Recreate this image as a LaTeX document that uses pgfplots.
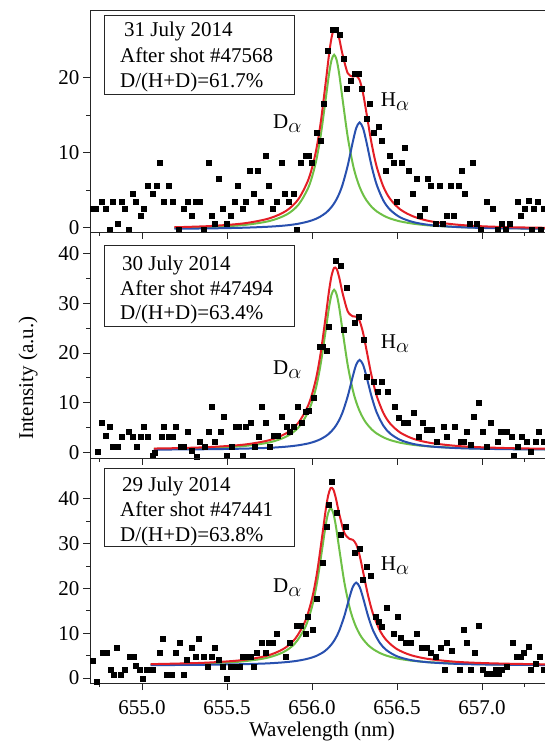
\documentclass[border=0pt]{standalone}
\usepackage{fontspec}
\setmainfont{Liberation Serif}
\usepackage{pgfplots}
\pgfplotsset{compat=1.18}
\definecolor{fitred}{RGB}{228,30,38}
\definecolor{fitgreen}{RGB}{110,192,70}
\definecolor{fitblue}{RGB}{40,80,175}
\newcommand\bigf{\fontsize{21}{25}\selectfont}
\newcommand\Da{D\raisebox{-4pt}{$\alpha$}}
\newcommand\Ha{H\raisebox{-4pt}{$\alpha$}}
\pgfplotsset{
  panel/.style={
    scale only axis, width=460pt,
    xmin=654.694, xmax=657.40,
    axis line style={line width=0.9pt, black!85},
    tick pos=left, tick align=outside,
    major tick length=7pt, minor tick length=4pt,
    every tick/.style={black!85, line width=0.9pt},
    xtick={655,655.5,656,656.5,657}, minor x tick num=1,
    minor xtick={654.75,657.25},
    minor y tick num=1,
    scaled x ticks=false,
    /pgf/number format/assume math mode=true,
    tick label style={font=\bigf},
    x tick label style={/pgf/number format/fixed,/pgf/number format/fixed zerofill,/pgf/number format/precision=1, yshift=-7pt},
    clip=true,
  },
  pts/.style={only marks, mark=square*, mark size=2.5pt, black},
  gline/.style={fitgreen, line width=2pt, smooth, no marks},
  bline/.style={fitblue, line width=2pt, smooth, no marks},
  rline/.style={fitred, line width=2pt, smooth, no marks},
}
\begin{document}
\begin{tikzpicture}
\useasboundingbox (0pt,0pt) rectangle (545pt,744pt);
% ---------------- Panel 1 ----------------
\begin{axis}[panel, at={(90pt,512pt)}, anchor=south west, height=222pt,
  ymin=-0.55, ymax=28.95, ytick={0,10,20}, xticklabels={}]
\addplot[pts] table {
654.71 2.6
654.73 2.6
654.76 3.5
654.785 2.6
654.81 -0.3
654.83 3.5
654.855 0.5
654.88 3.5
654.90 2.6
654.92 -0.3
654.945 4.6
654.965 3.5
654.99 1.55
655.01 2.6
655.035 5.6
655.06 4.6
655.085 5.6
655.105 8.6
655.13 3.5
655.155 5.6
655.18 3.5
655.215 -0.3
655.245 2.6
655.27 3.5
655.295 1.55
655.315 3.5
655.34 3.5
655.365 -0.3
655.39 8.6
655.41 1.55
655.43 0.5
655.45 6.5
655.475 2.6
655.50 0.5
655.52 1.55
655.545 3.5
655.565 5.6
655.59 2.6
655.61 3.5
655.635 7.6
655.655 4.6
655.68 7.6
655.70 3.5
655.725 9.6
655.745 5.6
655.77 2.6
655.795 3.5
655.82 8.6
655.84 4.6
655.865 3.5
655.89 4.6
655.91 -0.3
655.935 8.6
655.96 9.6
655.98 9.6
656.00 8.6
656.025 12.6
656.05 11.6
656.07 16.5
656.095 23.6
656.12 26.3
656.14 26.3
656.165 25.6
656.185 22.5
656.205 18.5
656.23 19.5
656.25 20.5
656.275 20.5
656.295 18.5
656.32 14.5
656.34 16.5
656.365 12.6
656.39 13.4
656.41 11.6
656.435 7.6
656.455 9.6
656.48 8.6
656.50 3.5
656.525 8.6
656.545 10.7
656.57 7.6
656.59 4.6
656.615 6.5
656.635 1.55
656.66 2.6
656.68 6.5
656.70 5.6
656.725 0.5
656.75 5.6
656.77 0.5
656.79 1.55
656.815 5.6
656.835 1.55
656.86 5.6
656.88 7.6
656.90 4.6
656.925 0.5
656.945 8.6
656.97 0.5
656.99 -0.3
657.03 3.5
657.06 2.6
657.09 -0.3
657.115 0.5
657.14 -0.3
657.16 0.5
657.21 3.5
657.23 1.55
657.25 2.6
657.275 3.6
657.29 -0.3
657.305 2.6
657.33 3.5
657.345 -0.3
657.365 2.5
657.39 1.55
};
\addplot[gline] table {
655.19 -0.01
655.40 0.11
655.60 0.38
655.75 0.91
655.85 1.76
655.92 3.07
655.98 5.44
656.02 8.47
656.05 12.10
656.08 17.04
656.10 20.43
656.115 22.30
656.13 23.00
656.145 22.30
656.16 20.43
656.18 17.04
656.21 12.10
656.24 8.47
656.26 6.75
656.28 5.44
656.30 4.44
656.32 3.67
656.35 2.81
656.38 2.20
656.42 1.64
656.46 1.24
656.52 0.85
656.60 0.54
656.70 0.30
656.85 0.12
657.00 0.02
657.20 -0.05
657.40 -0.09
};
\addplot[bline] table {
655.19 -0.11
655.40 -0.07
655.60 0.02
655.75 0.16
655.85 0.33
655.92 0.55
655.98 0.86
656.02 1.17
656.05 1.51
656.08 1.97
656.10 2.39
656.115 2.78
656.13 3.25
656.145 3.83
656.16 4.54
656.18 5.76
656.21 8.26
656.24 11.43
656.26 13.26
656.28 14.00
656.30 13.26
656.32 11.43
656.35 8.26
656.38 5.76
656.42 3.62
656.46 2.39
656.52 1.38
656.60 0.74
656.70 0.36
656.85 0.11
657.00 -0.01
657.20 -0.08
657.40 -0.11
};
\addplot[rline] table {
655.19 0.08
655.40 0.24
655.60 0.60
655.75 1.27
655.85 2.29
655.92 3.82
655.98 6.50
656.02 9.84
656.05 13.81
656.08 19.21
656.10 23.02
656.115 25.28
656.13 26.45
656.145 26.33
656.16 25.17
656.18 23.00
656.21 20.56
656.24 20.10
656.26 20.21
656.28 19.64
656.30 17.90
656.32 15.30
656.35 11.27
656.38 8.16
656.42 5.46
656.46 3.83
656.52 2.43
656.60 1.48
656.70 0.86
656.85 0.43
657.00 0.21
657.20 0.07
657.40 0.00
};
\node[font=\bigf] at (axis cs:655.854,13.9) {\Da};
\node[font=\bigf] at (axis cs:656.488,16.8) {\Ha};
\end{axis}
% ---------------- Panel 2 ----------------
\begin{axis}[panel, at={(90pt,286pt)}, anchor=south west, height=226pt,
  ymin=-1.1, ymax=44.3, ytick={0,10,20,30,40}, xticklabels={}]
\addplot[pts] table {
654.738 0.1
654.763 6.0
654.785 3.3
654.81 5.2
654.83 1.2
654.855 1.2
654.88 3.2
654.92 4.2
654.945 3.2
654.967 1.2
654.99 3.2
655.012 5.2
655.035 3.2
655.06 -0.7
655.076 -0.1
655.117 3.2
655.13 5.2
655.155 3.2
655.18 3.2
655.20 5.2
655.225 1.2
655.245 1.2
655.27 4.2
655.295 0.4
655.32 -0.8
655.34 2.2
655.37 1.2
655.39 4.2
655.41 9.2
655.43 2.2
655.46 4.2
655.48 7.1
655.50 -0.7
655.525 1.2
655.55 5.2
655.57 5.2
655.59 -0.7
655.61 5.2
655.64 6.0
655.66 1.2
655.685 3.2
655.705 9.2
655.73 6.0
655.75 1.2
655.775 3.3
655.80 3.3
655.82 7.1
655.85 5.2
655.87 4.2
655.895 5.2
655.915 9.2
655.94 6.0
655.96 8.2
655.98 8.5
656.01 11.1
656.045 21.3
656.06 21.3
656.085 20.4
656.10 25.3
656.137 38.6
656.167 37.5
656.186 24.6
656.206 33.2
656.25 26.1
656.275 27.2
656.304 22.6
656.32 15.3
656.363 14.3
656.386 12.2
656.41 14.3
656.445 12.2
656.486 9.2
656.51 6.9
656.54 5.9
656.56 5.9
656.60 8.0
656.63 3.2
656.65 6.0
656.676 4.6
656.706 4.6
656.735 2.2
656.775 5.2
656.794 3.2
656.837 5.2
656.873 2.2
656.892 2.2
656.91 4.2
656.935 1.5
656.95 7.2
656.98 10.0
657.006 4.2
657.03 1.2
657.05 6.0
657.09 2.2
657.108 4.2
657.147 4.2
657.176 3.2
657.186 -0.7
657.21 1.2
657.235 3.2
657.265 2.2
657.284 0.2
657.314 2.2
657.333 4.2
657.363 2.2
};
\addplot[gline] table {
655.07 0.71
655.19 0.76
655.40 0.93
655.60 1.31
655.75 2.04
655.85 3.22
655.92 5.03
655.98 8.33
656.02 12.54
656.05 17.58
656.08 24.42
656.10 29.13
656.115 31.73
656.13 32.70
656.145 31.73
656.16 29.13
656.18 24.42
656.21 17.58
656.24 12.54
656.26 10.14
656.28 8.33
656.30 6.94
656.32 5.87
656.35 4.68
656.38 3.84
656.42 3.05
656.46 2.50
656.52 1.96
656.60 1.52
656.70 1.20
656.85 0.94
657.00 0.80
657.20 0.70
657.40 0.65
};
\addplot[bline] table {
655.07 0.59
655.19 0.61
655.40 0.67
655.60 0.78
655.75 0.95
655.85 1.18
655.92 1.46
655.98 1.84
656.02 2.25
656.05 2.68
656.08 3.27
656.10 3.80
656.115 4.30
656.13 4.90
656.145 5.64
656.16 6.55
656.18 8.09
656.21 11.29
656.24 15.32
656.26 17.65
656.28 18.60
656.30 17.65
656.32 15.32
656.35 11.29
656.38 8.09
656.42 5.37
656.46 3.80
656.52 2.52
656.60 1.69
656.70 1.21
656.85 0.89
657.00 0.75
657.20 0.65
657.40 0.61
};
\addplot[rline] table {
655.07 0.80
655.19 0.87
655.40 1.10
655.60 1.59
655.75 2.49
655.85 3.90
655.92 5.99
655.98 9.67
656.02 14.29
656.05 19.76
656.08 27.19
656.10 32.43
656.115 35.53
656.13 37.10
656.145 36.87
656.16 35.18
656.18 32.01
656.21 28.37
656.24 27.36
656.26 27.29
656.28 26.43
656.30 24.09
656.32 20.69
656.35 15.47
656.38 11.43
656.42 7.92
656.46 5.80
656.52 3.98
656.60 2.71
656.70 1.91
656.85 1.33
657.00 1.05
657.20 0.85
657.40 0.76
};
\node[font=\bigf] at (axis cs:655.854,16.6) {\Da};
\node[font=\bigf] at (axis cs:656.488,21.8) {\Ha};
\end{axis}
% ---------------- Panel 3 ----------------
\begin{axis}[panel, at={(90pt,61pt)}, anchor=south west, height=225pt,
  ymin=-1.1, ymax=49.1, ytick={0,10,20,30,40}]
\addplot[pts] table {
654.712 3.9
654.735 -0.7
654.77 5.7
654.79 5.7
654.814 1.9
654.833 0.7
654.853 6.7
654.876 0.7
654.90 1.9
654.927 4.8
654.95 4.8
654.965 2.8
654.985 1.9
655.006 -0.1
655.03 1.9
655.06 1.9
655.104 5.7
655.124 8.8
655.147 0.7
655.176 0.7
655.196 5.7
655.22 7.8
655.245 0.7
655.265 4.1
655.29 6.7
655.314 4.7
655.333 8.8
655.363 4.7
655.386 2.6
655.41 4.8
655.43 6.7
655.45 4.1
655.476 2.6
655.50 -0.1
655.52 2.6
655.55 2.6
655.575 2.6
655.594 4.8
655.618 4.8
655.637 4.8
655.657 2.6
655.676 5.7
655.706 7.8
655.725 5.7
655.745 7.8
655.77 7.8
655.794 9.9
655.843 4.8
655.87 7.8
655.908 11.7
655.935 11.7
655.96 9.9
655.975 13.8
656.006 10.8
656.03 17.6
656.06 25.7
656.088 33.7
656.10 38.7
656.118 43.7
656.143 36.8
656.167 32.0
656.20 33.7
656.25 27.9
656.28 28.8
656.30 21.9
656.324 24.9
656.343 22.8
656.373 13.8
656.39 12.6
656.41 11.5
656.44 15.8
656.48 10.0
656.504 13.8
656.52 8.9
656.55 7.8
656.578 7.8
656.618 10.0
656.647 6.7
656.676 6.7
656.696 5.6
656.725 4.8
656.755 6.7
656.778 1.9
656.794 7.8
656.82 6.0
656.87 1.9
656.89 10.8
656.91 7.8
656.935 1.9
656.955 5.7
656.98 11.7
657.006 1.9
657.03 1.0
657.06 1.0
657.08 1.9
657.10 1.0
657.118 1.9
657.147 2.6
657.18 7.8
657.206 4.8
657.23 4.8
657.245 5.7
657.275 6.9
657.284 1.9
657.314 3.3
657.34 4.8
657.36 1.9
};
\addplot[gline] table {
655.05 3.02
655.17 3.09
655.38 3.27
655.58 3.68
655.73 4.47
655.83 5.76
655.90 7.74
655.96 11.33
656.00 15.92
656.03 21.41
656.06 28.88
656.08 34.01
656.095 36.84
656.11 37.90
656.125 36.84
656.14 34.01
656.16 28.88
656.19 21.41
656.22 15.92
656.24 13.31
656.26 11.33
656.28 9.82
656.30 8.66
656.33 7.36
656.36 6.44
656.40 5.58
656.44 4.98
656.50 4.39
656.58 3.91
656.68 3.56
656.83 3.28
656.98 3.13
657.18 3.02
657.40 2.95
};
\addplot[bline] table {
655.05 2.89
655.17 2.91
655.38 2.97
655.58 3.09
655.73 3.26
655.83 3.50
655.90 3.78
655.96 4.18
656.00 4.59
656.03 5.02
656.06 5.63
656.08 6.17
656.095 6.68
656.11 7.30
656.125 8.05
656.14 8.98
656.16 10.56
656.19 13.82
656.22 17.95
656.24 20.33
656.26 21.30
656.28 20.33
656.30 17.95
656.33 13.82
656.36 10.56
656.40 7.78
656.44 6.17
656.50 4.86
656.58 4.02
656.68 3.53
656.83 3.20
656.98 3.05
657.18 2.96
657.40 2.90
};
\addplot[rline] table {
655.05 3.11
655.17 3.20
655.38 3.44
655.58 3.97
655.73 4.93
655.83 6.46
655.90 8.72
655.96 12.71
656.00 17.71
656.03 23.63
656.06 31.71
656.08 37.38
656.095 40.72
656.11 42.40
656.125 42.09
656.14 40.19
656.16 36.64
656.19 32.43
656.22 31.07
656.24 30.84
656.26 29.83
656.28 27.35
656.30 23.81
656.33 18.38
656.36 14.20
656.40 10.56
656.44 8.35
656.50 6.45
656.58 5.13
656.68 4.29
656.83 3.68
656.98 3.38
657.18 3.18
657.40 3.05
};
\node[font=\bigf] at (axis cs:655.854,20.1) {\Da};
\node[font=\bigf] at (axis cs:656.488,25.1) {\Ha};
\end{axis}
% ---------------- annotations ----------------
\begin{scope}[font=\bigf]
\draw[line width=0.8pt, black!85] (104pt,729pt) rectangle (294pt,650pt);
\node[anchor=base west, inner sep=0pt] at (124pt,707pt) {31 July 2014};
\node[anchor=base west, inner sep=0pt] at (120pt,681pt) {After shot \#47568};
\node[anchor=base west, inner sep=0pt] at (120pt,656.5pt) {D/(H+D)=61.7\%};
\draw[line width=0.8pt, black!85] (104pt,499pt) rectangle (294pt,418pt);
\node[anchor=base west, inner sep=0pt] at (122pt,473.3pt) {30 July 2014};
\node[anchor=base west, inner sep=0pt] at (120pt,448pt) {After shot \#47494};
\node[anchor=base west, inner sep=0pt] at (120pt,424pt) {D/(H+D)=63.4\%};
\draw[line width=0.8pt, black!85] (104pt,276pt) rectangle (294pt,197.3pt);
\node[anchor=base west, inner sep=0pt] at (122pt,252.3pt) {29 July 2014};
\node[anchor=base west, inner sep=0pt] at (120pt,227.3pt) {After shot \#47441};
\node[anchor=base west, inner sep=0pt] at (120pt,202.3pt) {D/(H+D)=63.8\%};
\node[anchor=base] at (322pt,7pt) {Wavelength (nm)};
\node[rotate=90, anchor=center] at (28pt,366pt) {Intensity (a.u.)};
\end{scope}
\end{tikzpicture}
\end{document}
